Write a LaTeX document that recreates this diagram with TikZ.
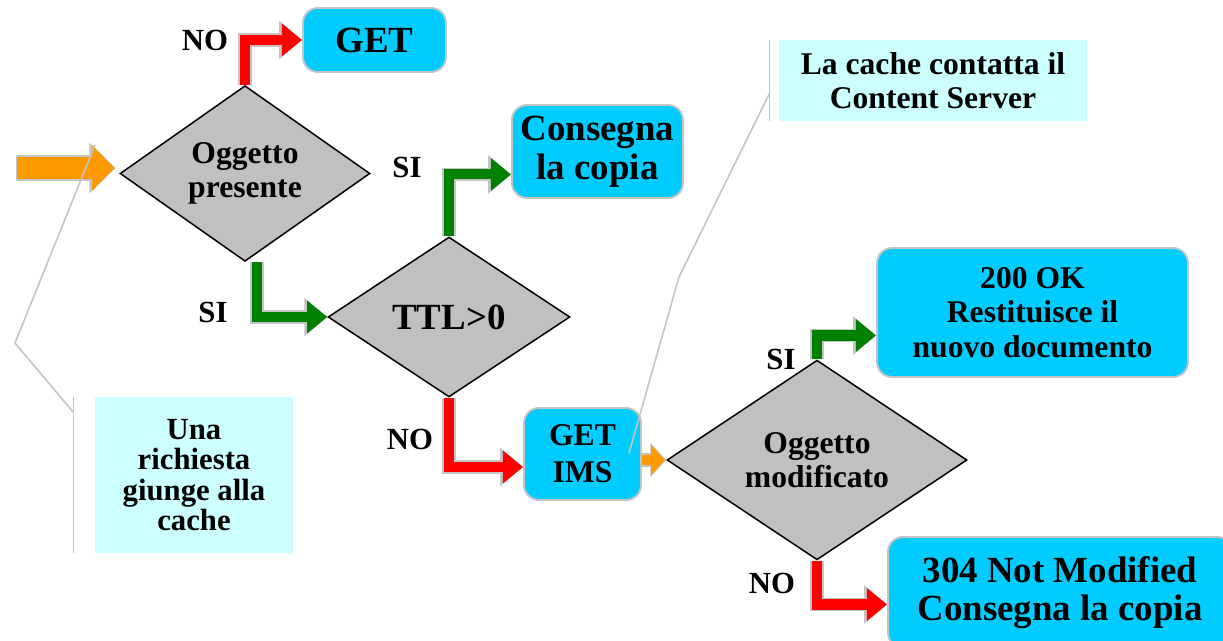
\documentclass[tikz,border=0pt]{standalone}
\usepackage{fontspec}
\setmainfont{Liberation Serif}
\usetikzlibrary{shapes.geometric,arrows.meta}

\definecolor{boxcyan}{HTML}{00CCFF}
\definecolor{notecyan}{HTML}{CCFFFF}
\definecolor{testgray}{HTML}{C0C0C0}
\definecolor{rimgray}{HTML}{C4C4C4}
\definecolor{feedorange}{HTML}{FF9900}
\definecolor{yesgreen}{HTML}{008000}
\definecolor{nored}{HTML}{FF0000}

\tikzset{
    box/.style={rectangle, draw=rimgray, line width=1.1pt, fill=boxcyan, rounded corners=0.3cm, align=center, inner sep=0pt},
    note/.style={rectangle, fill=notecyan, align=center, inner sep=0pt},
    test/.style={diamond, draw=black, line width=0.85pt, fill=testgray, align=center, inner sep=0pt},
    bigtxt/.style={font=\fontsize{21}{22}\selectfont\bfseries},
    midtxt/.style={font=\fontsize{18}{19.6}\selectfont\bfseries},
    reqtxt/.style={font=\fontsize{17.5}{17.3}\selectfont\bfseries},
    lbl/.style={font=\fontsize{17.5}{18}\selectfont\bfseries, inner sep=0pt},
    elbow/.style={line width=5.7pt, draw=#1, -{Triangle[length=11.5pt,width=18pt]},
        preaction={draw=rimgray, line width=7.6pt, -{Triangle[length=13pt,width=21pt]}}},
    yesarrow/.style={elbow=yesgreen},
    noarrow/.style={elbow=nored},
    feed/.style={draw=feedorange, -{Triangle[length=#1]}},
    leader/.style={draw=rimgray, line width=0.9pt}
}

\begin{document}
\begin{tikzpicture}[x=0.02cm, y=-0.02cm]
    \useasboundingbox (0,0) rectangle (1223,641);

    \node[test, midtxt, minimum width=5cm, minimum height=3.42cm] (present) at (245,173.5) {Oggetto\\presente};
    \node[test, bigtxt, minimum width=4.84cm, minimum height=3.2cm] (ttl) at (449,317) {TTL>0};
    \node[test, midtxt, minimum width=6cm, minimum height=3.4cm] (changed) at (817,460) {Oggetto\\modificato};

    \node[box, bigtxt, minimum width=2.86cm, minimum height=1.28cm] (get) at (374.5,40) {GET};
    \node[box, bigtxt, minimum width=3.42cm, minimum height=1.86cm] (copy) at (597.5,151.5) {Consegna\\la copia};
    \node[box, midtxt, minimum width=2.34cm, minimum height=1.84cm] (ims) at (582.5,454) {GET\\[1.5pt]IMS};
    \node[box, midtxt, minimum width=6.22cm, minimum height=2.58cm] (ok) at (1032.5,312.5) {200 OK\\Restituisce il\\nuovo documento};
    \node[box, bigtxt, minimum width=6.88cm, minimum height=2.22cm] (notmod) at (1060,592.5) {304 Not Modified\\Consegna la copia};

    \node[note, midtxt, minimum width=6.16cm, minimum height=1.62cm] (server) at (933,80.5) {La cache contatta il\\Content Server};
    \node[note, reqtxt, minimum width=3.96cm, minimum height=3.12cm] (request) at (194,475) {Una\\richiesta\\giunge alla\\cache};

    \node[lbl] (nogot) at (205,40) {NO};
    \node[lbl] (siteu) at (407,167) {SI};
    \node[lbl] (sipres) at (213,312) {SI};
    \node[lbl] (nottl) at (410,439) {NO};
    \node[lbl] (simod) at (781,359) {SI};
    \node[lbl] (nomod) at (772,583) {NO};

    \draw[noarrow] (present.north) |- (get.west);
    \draw[yesarrow] ([xshift=0.24cm]present.south) |- (ttl.west);
    \draw[yesarrow] (ttl.north) |- ([yshift=-0.46cm]copy.west);
    \draw[noarrow] (ttl.south) |- ([yshift=-0.26cm]ims.west);
    \draw[yesarrow] (changed.north) |- ([yshift=-0.46cm]ok.west);
    \draw[noarrow] (changed.south) |- ([yshift=-0.24cm]notmod.west);

    \coordinate (entry) at (16,168);
    \draw[feed=13.6pt, line width=15pt, draw=rimgray, -{Triangle[length=15pt,width=28pt]}] (entry) -- ([xshift=-2pt]entry -| present.west);
    \draw[feed=13.6pt, line width=12.5pt, shorten >=0.8pt, -{Triangle[length=12.6pt,width=25pt]}] ([xshift=0.8pt]entry) -- ([xshift=-2pt]entry -| present.west);
    \draw[line width=7.5pt, draw=rimgray, -{Triangle[length=9pt,width=19pt]}] (ims.east |- changed.west) -- (changed.west);
    \draw[feed=8pt, line width=5.8pt, shorten >=0.8pt, -{Triangle[length=7.8pt,width=16.5pt]}] (ims.east |- changed.west) -- (changed.west);

    \coordinate (bendsrv) at (679,277);
    \coordinate (tipsrv) at (629,453);
    \draw[leader] ([xshift=-0.18cm]server.north west) -- ([xshift=-0.18cm]server.south west);
    \draw[leader] ([xshift=-0.18cm, yshift=-0.25cm]server.west) -- (bendsrv) -- (tipsrv);

    \coordinate (bendreq) at (15,343);
    \coordinate (tipreq) at (95,145);
    \draw[leader] ([xshift=-0.42cm]request.north west) -- ([xshift=-0.42cm]request.south west);
    \draw[leader] ([xshift=-0.42cm, yshift=-0.32cm]request.north west) -- (bendreq) -- (tipreq);
\end{tikzpicture}
\end{document}
